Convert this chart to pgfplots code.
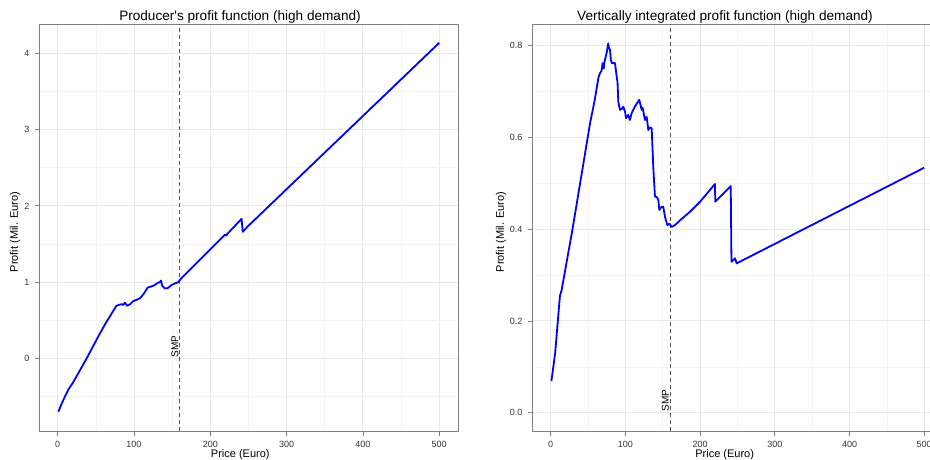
\documentclass[border=0pt]{standalone}
\usepackage{pgfplots}
\pgfplotsset{compat=1.18}
\usepackage{fontspec}
\setmainfont{Liberation Sans}
\definecolor{gridmaj}{HTML}{E8E8E8}
\definecolor{gridmin}{HTML}{F4F4F4}
\definecolor{boxcol}{HTML}{808080}
\definecolor{smpcol}{HTML}{555555}
\definecolor{ticktext}{HTML}{333333}
\begin{document}
\begin{tikzpicture}[x=1pt,y=1pt]
\pgfplotsset{
 base/.style={
  scale only axis, anchor=south west,
  height=406.7pt,
  axis line style={boxcol, line width=0.9pt},
  tick pos=left, tick align=outside,
  major tick length=4.5pt, minor tick length=0pt,
  tick style={boxcol, line width=0.8pt},
  grid=both,
  major grid style={gridmaj, line width=0.9pt},
  minor grid style={gridmin, line width=0.6pt},
  ticklabel style={font=\fontsize{9}{10}\selectfont, text=ticktext},
  xticklabel style={yshift=-2pt},
  yticklabel style={xshift=-2pt},
  /pgf/number format/assume math mode=true,
  xtick={0,100,200,300,400,500},
  minor xtick={50,150,250,350,450},
 },
 smp/.style={smpcol, line width=1.4pt, dash pattern=on 4pt off 3pt, forget plot},
 prof/.style={blue, line width=1.8pt, line join=round, no markers},
}
% ---------------- left panel
\begin{axis}[base, at={(39.3pt,28pt)}, width=419pt,
  xmin=-24.1, xmax=525, ymin=-0.954, ymax=4.383,
  ytick={0,1,2,3,4}, minor ytick={-0.5,0.5,1.5,2.5,3.5}]
\addplot[smp] coordinates {(160,-0.954) (160,4.383)};
\addplot[prof] coordinates {
(1,-0.70) (5,-0.60) (10,-0.49) (14,-0.41) (20,-0.32) (38,0.0) (55,0.32)
(64,0.48) (68.5,0.55) (72,0.61) (77,0.69) (80,0.70) (84,0.71) (86,0.70)
(88,0.73) (91,0.69) (95,0.71) (99,0.75) (104,0.77) (108,0.79) (113,0.85)
(118,0.93) (122,0.94) (127,0.96) (131,0.99) (134,1.00) (135.5,1.02)
(137,0.95) (140,0.92) (144,0.92) (149,0.96) (153,0.98) (158,1.00)
(162,1.05) (190,1.33) (219,1.62) (221,1.61) (222,1.63) (241,1.83)
(242.5,1.66) (249,1.73) (500,4.14)};
\node[rotate=90, anchor=south west, inner sep=1pt, font=\fontsize{10}{11}\selectfont] at (axis cs:160,0) {SMP};
\end{axis}
% ---------------- right panel
\begin{axis}[base, at={(532.3pt,28pt)}, width=410.6pt,
  xmin=-24.6, xmax=525, ymin=-0.0399, ymax=0.8466,
  ytick={0,0.2,0.4,0.6,0.8}, minor ytick={0.1,0.3,0.5,0.7},
  yticklabel style={/pgf/number format/.cd, fixed, fixed zerofill, precision=1}]
\addplot[smp] coordinates {(160,-0.0399) (160,0.8466)};
\addplot[prof] coordinates {
(1,0.069) (6,0.130) (12.4,0.255) (14.5,0.266) (29,0.398) (52.6,0.630)
(59,0.682) (64,0.731) (66,0.740) (68,0.745) (69.5,0.762) (71,0.750)
(72,0.765) (75,0.785) (77,0.805) (78,0.795) (79.4,0.791) (80.5,0.770)
(81.7,0.762) (86,0.762) (87,0.750) (88.4,0.732) (89.5,0.720) (90.5,0.678)
(92.8,0.660) (95,0.662) (97.2,0.667) (99.5,0.656) (101,0.642) (103.9,0.649)
(106,0.638) (108.4,0.653) (113,0.668) (118.6,0.682) (121.8,0.660)
(123,0.665) (126.2,0.638) (128.5,0.645) (130.7,0.616) (133,0.622)
(135.2,0.620) (137.3,0.536) (139.6,0.471) (142,0.470) (144.1,0.464)
(145.4,0.442) (148,0.448) (150.7,0.449) (153,0.427) (156.1,0.409)
(159,0.412) (162,0.405) (166.4,0.409) (175,0.422) (186.5,0.438)
(200,0.460) (219.9,0.4985) (220.3,0.46) (241,0.494) (242,0.329)
(246.7,0.3365) (249,0.3256) (500,0.534)};
\node[rotate=90, anchor=south west, inner sep=1pt, font=\fontsize{10}{11}\selectfont] at (axis cs:160,0) {SMP};
\end{axis}
% ---------------- titles and labels
\node[anchor=base, font=\fontsize{13.6}{15}\selectfont] at (240,438.5) {Producer\textquotesingle s profit function (high demand)};
\node[anchor=base, font=\fontsize{13.6}{15}\selectfont] at (725,438.5) {Vertically integrated profit function (high demand)};
\node[anchor=base, font=\fontsize{11}{12}\selectfont] at (240.3,1.5) {Price (Euro)};
\node[anchor=base, font=\fontsize{11}{12}\selectfont] at (724.7,1.5) {Price (Euro)};
\node[rotate=90, font=\fontsize{11}{12}\selectfont] at (15,227) {Profit (Mil. Euro)};
\node[rotate=90, font=\fontsize{11}{12}\selectfont] at (501,227) {Profit (Mil. Euro)};
\pgfresetboundingbox
\path[use as bounding box] (0,0) rectangle (930,459);
\end{tikzpicture}
\end{document}
